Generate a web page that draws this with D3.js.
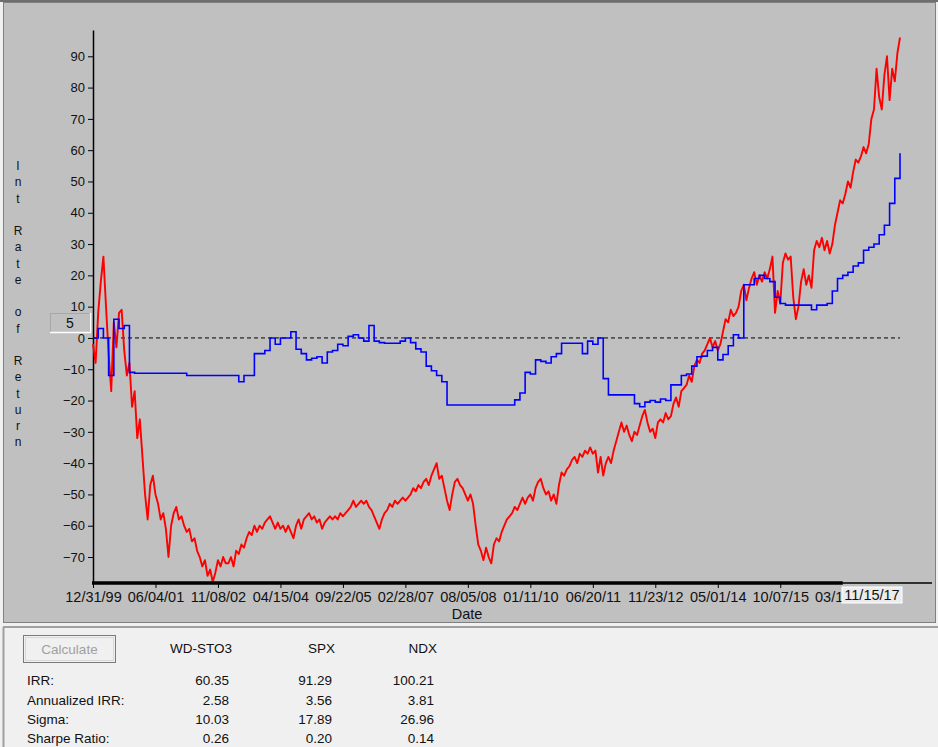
<!DOCTYPE html>
<html>
<head>
<meta charset="utf-8">
<script src="https://cdn.jsdelivr.net/npm/d3@7"></script>
<style>
  body { margin: 0; background: #f0f0f0; }
  svg { display: block; font-family: "Liberation Sans", Arial, sans-serif; }
</style>
</head>
<body>
<div id="chart"></div>
<script>
// x tick labels (one every 24 samples of the red series)
const tickLabels = ["12/31/99", "06/04/01", "11/08/02", "04/15/04", "09/22/05", "02/28/07",
  "08/05/08", "01/11/10", "06/20/11", "11/23/12", "05/01/14", "10/07/15", "03/14/17"];
const cursorDate = "11/15/17";
const yTicks = [90, 80, 70, 60, 50, 40, 30, 20, 10, 0, -10, -20, -30, -40, -50, -60, -70];
const cursorValue = "5";

// NDX (red), evenly spaced in trading time
const ndxIrr = [
  -2, -8, 8, 18, 26, 10, -5, -17, 5, -3, 8, 9, -4, -12, -8, -22, -17, -32, -26, -38,
  -50, -58, -47, -44, -50, -53, -58, -56, -61, -70, -60, -56, -54, -58, -57, -60, -62, -61, -65, -64,
  -68, -70, -73, -71, -76, -74, -78, -75, -71, -73, -70, -72, -72, -70, -73, -68, -69, -66, -67, -64,
  -62, -63, -60, -62, -60, -61, -59, -58, -57, -59, -61, -59, -61, -60, -62, -60, -62, -64, -60, -58,
  -61, -58, -57, -56, -58, -57, -59, -58, -61, -59, -58, -57, -58, -57, -58, -56, -57, -56, -55, -54,
  -52, -54, -53, -52, -53, -52, -54, -55, -57, -59, -61, -58, -56, -55, -53, -54, -52, -53, -52, -51,
  -52, -51, -50, -48, -49, -47, -48, -46, -45, -47, -44, -42, -40, -45, -44, -48, -52, -55, -50, -46,
  -45, -47, -48, -50, -52, -50, -53, -60, -66, -68, -71, -67, -70, -72, -66, -64, -65, -62, -60, -58,
  -57, -56, -54, -55, -53, -51, -53, -51, -50, -52, -48, -46, -45, -48, -50, -49, -52, -50, -53, -47,
  -43, -44, -42, -41, -39, -38, -40, -37, -38, -36, -37, -35, -37, -36, -43, -38, -44, -40, -38, -40,
  -36, -33, -30, -27, -30, -28, -31, -33, -30, -31, -28, -25, -23, -27, -30, -29, -32, -27, -26, -27,
  -24, -26, -25, -21, -19, -22, -17, -16, -15, -12, -14, -9, -7, -8, -5, -4, -2, 0, -3, -1,
  -4, -2, 2, 6, 5, 9, 7, 8, 10, 15, 17, 12, 16, 19, 21, 17, 20, 18, 21, 19,
  22, 26, 8, 15, 11, 24, 27, 25, 26, 13, 6, 10, 18, 22, 17, 20, 16, 28, 31, 29,
  32, 28, 31, 27, 30, 36, 40, 44, 43, 46, 50, 48, 53, 57, 56, 58, 61, 59, 62, 70,
  73, 86, 77, 73, 84, 90, 76, 86, 82, 91, 96
];

// WD-STO3 (blue), one reading every two red samples
const wdSto3Irr = [
  0, 3, 0, -12, 6, 3, 4, -11, -11.3, -11.3, -11.3, -11.3, -11.3, -11.3, -11.3, -11.3, -11.3, -11.3, -12, -12,
  -12, -12, -12, -12, -12, -12, -12, -12, -14, -12, -12, -5, -5, -4, 0, -2, 0, 0, 2, -3.6,
  -5, -7, -6.5, -6, -8, -4.5, -4, -2, -2.5, 0.5, 1, 0, -1, 4, -1, -1.5, -1.7, -1.7, -1.7, -1,
  0, -1.5, -3.5, -4.5, -9, -10.5, -12, -14, -21.4, -21.4, -21.4, -21.4, -21.4, -21.4, -21.4, -21.4, -21.4, -21.4, -21.4, -21.4,
  -21.4, -19.8, -17.6, -11, -11.5, -7, -7.5, -8, -6, -5, -1.7, -1.7, -1.7, -1.7, -5, -1, -2, 0, -13, -18.2,
  -18.2, -18.2, -18.2, -18.2, -21, -22, -20.5, -20, -20.5, -19.5, -20, -15, -15, -12, -11.5, -9, -6, -5.8, -4, -3,
  -7, -5.3, -2.5, 1, 0, 17, 17, 19, 20, 19, 18, 13, 11, 10.5, 10.5, 10.5, 10.5, 10.5, 9, 10.5,
  10.5, 11, 15, 19, 20, 21, 23, 24, 28, 29, 30, 33, 36, 43, 51, 59
];

const statHeaders = ["WD-STO3", "SPX", "NDX"];
const statNames = ["IRR:", "Annualized IRR:", "Sigma:", "Sharpe Ratio:"];
const statsWdSto3 = ["60.35", "2.58", "10.03", "0.26"];
const statsSpx = ["91.29", "3.56", "17.89", "0.20"];
const statsNdx = ["100.21", "3.81", "26.96", "0.14"];

const width = 938, height = 747;
const tickEvery = 24;

const svg = d3.select("#chart").append("svg")
  .attr("width", width)
  .attr("height", height);

// window frame
svg.append("rect").attr("width", width).attr("height", height).attr("fill", "#f0f0f0");
svg.append("rect")
  .attr("x", 3.5).attr("y", 2.5)
  .attr("width", 932).attr("height", 620)
  .attr("fill", "#c0c0c0")
  .attr("stroke", "#808080");
svg.append("line").attr("x1", 0).attr("x2", width).attr("y1", 1).attr("y2", 1)
  .attr("stroke", "#6e6e6e").attr("stroke-width", 2);

let x = d3.scaleLinear()
  .domain([0, ndxIrr.length - 1])
  .range([93, 900]);

let y = d3.scaleLinear()
  .domain([-78.3, 98.4])
  .range([583, 30]);

// the date readout box hides the right part of the last tick label
svg.append("clipPath")
  .attr("id", "tick-clip")
  .append("rect")
  .attr("x", -100).attr("y", 0).attr("width", 842 + 100).attr("height", height);

// y axis
let yAxis = d3.axisLeft(y)
  .tickValues(yTicks)
  .tickSize(5)
  .tickSizeOuter(0);

let yg = svg.append("g")
  .attr("transform", "translate(93,0)")
  .call(yAxis);
yg.select(".domain").attr("stroke", "#000").attr("stroke-width", 1.5);
yg.selectAll(".tick line").attr("stroke", "#000");
yg.selectAll(".tick text")
  .attr("font-size", 13)
  .attr("font-family", "Liberation Sans, Arial, sans-serif")
  .attr("fill", "#111");

// vertical y title, one letter per line
const yTitle = "Int Rate of Return".split("");
svg.append("g").selectAll("text")
  .data(yTitle)
  .enter()
  .append("text")
  .attr("x", 18)
  .attr("y", (d, i) => 166 + i * 16.25)
  .attr("dy", "0.35em")
  .attr("text-anchor", "middle")
  .attr("font-size", 12)
  .attr("fill", "#111")
  .text(d => d);

// zero reference
svg.append("line")
  .attr("x1", x(0)).attr("x2", x(ndxIrr.length - 1))
  .attr("y1", y(0)).attr("y2", y(0))
  .attr("stroke", "#000")
  .attr("stroke-dasharray", "4,3");

// series
let redLine = d3.line()
  .x((d, i) => x(i))
  .y(d => y(d));

let blueLine = d3.line()
  .x((d, i) => x(i * 2))
  .y(d => y(d))
  .curve(d3.curveStepAfter);

svg.append("path")
  .datum(ndxIrr)
  .attr("fill", "none")
  .attr("stroke", "#ff0000")
  .attr("stroke-width", 1.9)
  .attr("stroke-linejoin", "round")
  .attr("d", redLine);

svg.append("path")
  .datum(wdSto3Irr)
  .attr("fill", "none")
  .attr("stroke", "#0000ff")
  .attr("stroke-width", 1.6)
  .attr("d", blueLine);

// x axis
let xAxis = d3.axisBottom(x)
  .tickValues(tickLabels.map((d, i) => i * tickEvery))
  .tickFormat((d, i) => tickLabels[i])
  .tickSize(5)
  .tickPadding(4)
  .tickSizeOuter(0);

let xg = svg.append("g")
  .attr("transform", "translate(0,583)")
  .call(xAxis);
xg.select(".domain").remove();
xg.selectAll(".tick line").attr("stroke", "#000");
xg.selectAll(".tick text")
  .attr("font-size", 14.5)
  .attr("font-family", "Liberation Sans, Arial, sans-serif")
  .attr("fill", "#111");
xg.attr("clip-path", "url(#tick-clip)");

svg.append("line")
  .attr("x1", 93).attr("x2", 932).attr("y1", 583).attr("y2", 583)
  .attr("stroke", "#000").attr("stroke-width", 1.5);
svg.append("line")
  .attr("x1", 92).attr("x2", x(12 * tickEvery)).attr("y1", 583).attr("y2", 583)
  .attr("stroke", "#000").attr("stroke-width", 3.5);

svg.append("text")
  .attr("x", 467)
  .attr("y", 619)
  .attr("text-anchor", "middle")
  .attr("font-size", 14.5)
  .attr("fill", "#111")
  .text("Date");

// cursor readouts
svg.append("rect")
  .attr("x", 842).attr("y", 587).attr("width", 60).attr("height", 16)
  .attr("fill", "#ececec").attr("stroke", "#ffffff");
svg.append("text")
  .attr("x", 872).attr("y", 600)
  .attr("text-anchor", "middle")
  .attr("font-size", 14.5)
  .attr("fill", "#111")
  .text(cursorDate);

svg.append("rect")
  .attr("x", 50.5).attr("y", 313.5).attr("width", 39).attr("height", 19)
  .attr("fill", "#c0c0c0").attr("stroke", "#a8a8a8");
svg.append("path")
  .attr("d", "M50,332.5H90.5V313")
  .attr("fill", "none").attr("stroke", "#ffffff").attr("stroke-width", 1.5);
svg.append("text")
  .attr("x", 70).attr("y", 328)
  .attr("text-anchor", "middle")
  .attr("font-size", 14)
  .attr("fill", "#111")
  .text(cursorValue);

// stats panel
svg.append("line").attr("x1", 3).attr("x2", width).attr("y1", 627).attr("y2", 627)
  .attr("stroke", "#a0a0a0").attr("stroke-width", 2);
svg.append("line").attr("x1", 3.5).attr("x2", 3.5).attr("y1", 627).attr("y2", height)
  .attr("stroke", "#a0a0a0").attr("stroke-width", 2);

svg.append("rect")
  .attr("x", 23.5).attr("y", 635.5).attr("width", 92).attr("height", 27)
  .attr("fill", "#f0f0f0").attr("stroke", "#7a7a7a");
svg.append("rect")
  .attr("x", 25.5).attr("y", 637.5).attr("width", 88).attr("height", 23)
  .attr("fill", "none").attr("stroke", "#d8d8d8");
svg.append("text")
  .attr("x", 69.5).attr("y", 654)
  .attr("text-anchor", "middle")
  .attr("font-size", 13.5)
  .attr("fill", "#a0a0a0")
  .text("Calculate");

const colRight = [229, 332, 434];
const statCols = [statsWdSto3, statsSpx, statsNdx];
const rowY = [685, 704.5, 724, 743];

svg.append("g").selectAll("text")
  .data(statHeaders)
  .enter()
  .append("text")
  .attr("x", (d, i) => colRight[i] + 3)
  .attr("y", 653)
  .attr("text-anchor", "end")
  .attr("font-size", 13.5)
  .attr("fill", "#111")
  .text(d => d);

svg.append("g").selectAll("text")
  .data(statNames)
  .enter()
  .append("text")
  .attr("x", 27)
  .attr("y", (d, i) => rowY[i])
  .attr("font-size", 13.5)
  .attr("fill", "#111")
  .text(d => d);

statCols.forEach(function(col, c) {
  svg.append("g").selectAll("text")
    .data(col)
    .enter()
    .append("text")
    .attr("x", colRight[c])
    .attr("y", (d, i) => rowY[i])
    .attr("text-anchor", "end")
    .attr("font-size", 13.5)
    .attr("fill", "#111")
    .text(d => d);
});
</script>
</body>
</html>
